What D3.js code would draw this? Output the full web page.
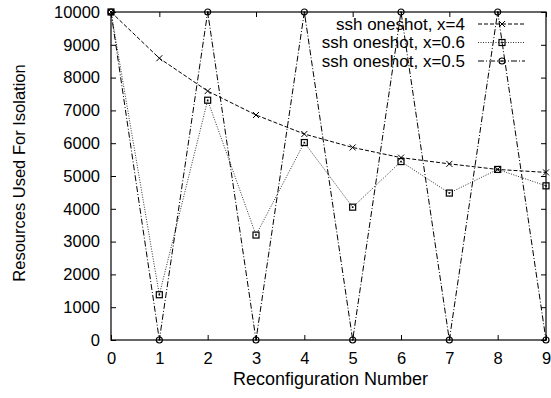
<!DOCTYPE html>
<html>
<head>
<meta charset="utf-8">
<script src="https://cdn.jsdelivr.net/npm/d3@7"></script>
<style>
  body { margin: 0; background: #fff; }
  svg { font-family: "Liberation Sans", Arial, Helvetica, sans-serif; }
  .axis path, .axis line { stroke: #000; }
  .axis text { font-size: 16.5px; fill: #000; }
</style>
</head>
<body>
<script>
var steps = [0, 1, 2, 3, 4, 5, 6, 7, 8, 9];
var seriesNames = ["ssh oneshot, x=4", "ssh oneshot, x=0.6", "ssh oneshot, x=0.5"];
var valuesX4 = [10000, 8590, 7590, 6860, 6280, 5870, 5560, 5370, 5200, 5110];
var valuesX06 = [10000, 1380, 7310, 3200, 6020, 4050, 5440, 4480, 5200, 4700];
var valuesX05 = [10000, 0, 10000, 0, 10000, 0, 10000, 0, 10000, 0];
var yTicks = [0, 1000, 2000, 3000, 4000, 5000, 6000, 7000, 8000, 9000, 10000];

var margin = {top: 12, right: 5, bottom: 58, left: 111}
  , width = 551 - margin.left - margin.right
  , height = 398 - margin.top - margin.bottom;

var xScale = d3.scaleLinear().domain([0, 9]).range([0, width]);
var yScale = d3.scaleLinear().domain([0, 10000]).range([height, 0]);

var series = [
  {name: seriesNames[0], values: valuesX4, dash: "4,2", color: "#000", marker: "cross"},
  {name: seriesNames[1], values: valuesX06, dash: "1,1.5", color: "#333", marker: "square"},
  {name: seriesNames[2], values: valuesX05, dash: "6,2,1,2", color: "#000", marker: "circle"}
];

var svg = d3.select("body").append("svg")
    .attr("width", 551)
    .attr("height", 398)
  .append("g")
    .attr("transform", "translate(" + margin.left + "," + margin.top + ")");

// axes with inward ticks, mirrored on top/right
svg.append("g").attr("class", "axis")
    .attr("transform", "translate(0," + height + ")")
    .call(d3.axisBottom(xScale).tickValues(steps).tickFormat(d3.format("d")).tickSizeInner(-5).tickSizeOuter(0).tickPadding(12))
    .call(function(g) { g.select(".domain").remove(); });
svg.append("g").attr("class", "axis")
    .call(d3.axisTop(xScale).tickValues(steps).tickSizeInner(-5).tickSizeOuter(0).tickFormat(""))
    .call(function(g) { g.select(".domain").remove(); });
svg.append("g").attr("class", "axis")
    .call(d3.axisLeft(yScale).tickValues(yTicks).tickFormat(d3.format("d")).tickSizeInner(-5).tickSizeOuter(0).tickPadding(11))
    .call(function(g) { g.select(".domain").remove(); });
svg.append("g").attr("class", "axis")
    .attr("transform", "translate(" + width + ",0)")
    .call(d3.axisRight(yScale).tickValues(yTicks).tickSizeInner(-5).tickSizeOuter(0).tickFormat(""))
    .call(function(g) { g.select(".domain").remove(); });

svg.append("rect")
    .attr("width", width).attr("height", height)
    .attr("fill", "none").attr("stroke", "#000").attr("stroke-width", 1.2);

var line = d3.line()
    .x(function(d, i) { return xScale(steps[i]); })
    .y(function(d) { return yScale(d); });

function drawMarker(g, type, x, y) {
  if (type == "cross") {
    g.append("path").attr("d", "M" + (x-3) + "," + (y-3) + "L" + (x+3) + "," + (y+3) + "M" + (x-3) + "," + (y+3) + "L" + (x+3) + "," + (y-3))
      .attr("stroke", "#000").attr("stroke-width", 1).attr("fill", "none");
  } else if (type == "square") {
    g.append("rect").attr("x", x-3).attr("y", y-3).attr("width", 6).attr("height", 6)
      .attr("stroke", "#000").attr("stroke-width", 1.2).attr("fill", "none");
    g.append("rect").attr("x", x-0.8).attr("y", y-0.8).attr("width", 1.6).attr("height", 1.6).attr("fill", "#000");
  } else {
    g.append("circle").attr("cx", x).attr("cy", y).attr("r", 3)
      .attr("stroke", "#000").attr("stroke-width", 1.2).attr("fill", "none");
    g.append("circle").attr("cx", x).attr("cy", y).attr("r", 0.8).attr("fill", "#000");
  }
}

series.forEach(function(s) {
  svg.append("path")
    .attr("d", line(s.values))
    .attr("fill", "none")
    .attr("stroke", s.color)
    .attr("stroke-width", 1)
    .attr("stroke-dasharray", s.dash);
  var mg = svg.append("g");
  s.values.forEach(function(v, i) { drawMarker(mg, s.marker, xScale(steps[i]), yScale(v)); });
});

// legend
var legend = svg.append("g").attr("transform", "translate(" + (width - 76) + ",12)");
series.forEach(function(s, i) {
  var y = i * 18.5;
  legend.append("text").attr("x", -5).attr("y", y).attr("dy", "0.35em")
    .attr("text-anchor", "end").style("font-size", "17px").text(s.name);
  legend.append("line").attr("x1", 8).attr("x2", 55).attr("y1", y).attr("y2", y)
    .attr("stroke", s.color).attr("stroke-width", 1).attr("stroke-dasharray", s.dash);
  drawMarker(legend, s.marker, 32, y);
});

svg.append("text")
    .attr("transform", "translate(" + (width / 2 + 2) + "," + (height + 45) + ")")
    .style("text-anchor", "middle").style("font-size", "18px")
    .text("Reconfiguration Number");

svg.append("text")
    .attr("transform", "translate(" + (-margin.left + 25) + "," + (height / 2 - 3) + ") rotate(-90)")
    .style("text-anchor", "middle").style("font-size", "16.5px")
    .text("Resources Used For Isolation");
</script>
</body>
</html>
